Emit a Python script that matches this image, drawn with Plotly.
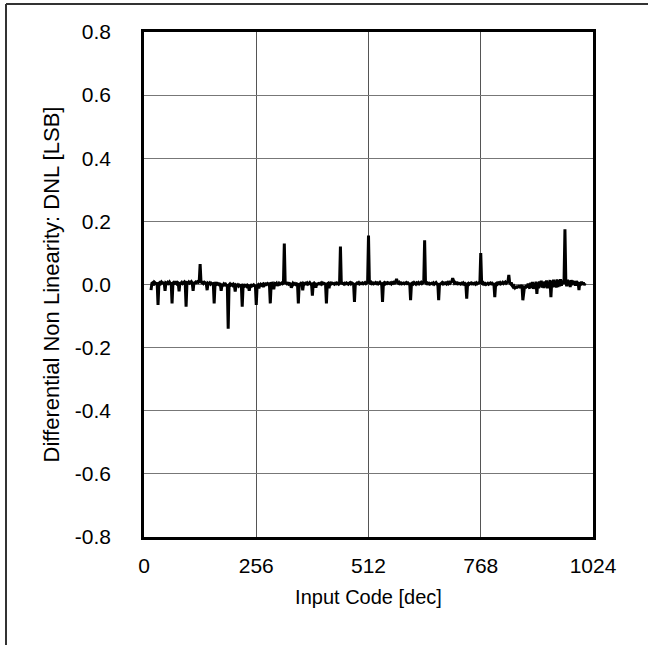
import plotly.graph_objects as go

# Input codes (every 2nd code, 16 .. 1006)
codes = list(range(16, 1008, 2))

# DNL values [LSB], 16 values per 32-code block
dnl_q1 = [
    -0.018, 0.004, 0.006, -0.003, 0.007, 0.005, 0.002, 0.006, -0.065, 0.004, 0.006, 0.003, 0.008, 0.005, 0.004, 0.007,
    -0.020, 0.005, 0.003, 0.007, 0.004, 0.008, 0.003, 0.006, -0.060, 0.005, 0.007, 0.004, 0.006, 0.003, 0.007, 0.005,
    -0.022, 0.006, 0.004, 0.007, 0.003, 0.005, 0.008, 0.004, -0.070, 0.006, 0.005, 0.008, 0.004, 0.006, 0.009, 0.005,
    -0.020, 0.007, 0.005, 0.008, 0.006, 0.009, 0.007, 0.010, 0.065, 0.008, 0.006, 0.010, 0.004, 0.007, 0.005, 0.003,
    -0.018, 0.004, 0.002, 0.005, 0.001, 0.004, 0.002, 0.003, -0.060, 0.002, 0.004, 0.001, 0.003, 0.000, 0.002, 0.001,
    -0.020, 0.001, -0.002, 0.002, -0.001, 0.001, -0.003, 0.000, -0.140, -0.001, 0.002, -0.002, 0.000, -0.003, 0.001, -0.002,
    -0.022, -0.002, -0.004, -0.001, -0.005, -0.002, -0.004, -0.003, -0.070, -0.004, -0.002, -0.005, -0.003, -0.006, -0.002, -0.004,
    -0.020, -0.004, -0.002, -0.005, -0.003, -0.001, -0.004, -0.002, -0.065, -0.003, -0.001, -0.012, -0.002, 0.001, -0.002, 0.000,
]
dnl_q2 = [
    -0.008, 0.001, -0.001, 0.002, 0.000, 0.003, 0.001, 0.002, -0.060, 0.002, 0.004, 0.001, -0.015, 0.003, 0.001, 0.004,
    -0.004, 0.002, 0.004, 0.001, 0.003, 0.005, 0.002, 0.004, 0.130, 0.003, 0.005, 0.002, 0.004, 0.001, 0.003, 0.002,
    -0.010, 0.002, 0.004, 0.001, 0.003, 0.000, 0.002, 0.004, -0.060, 0.003, 0.001, 0.004, 0.002, -0.018, 0.003, 0.001,
    0.004, 0.002, 0.005, 0.001, 0.003, 0.006, 0.002, 0.004, -0.035, 0.003, 0.005, 0.002, -0.010, 0.004, 0.001, 0.003,
    0.002, 0.004, 0.001, 0.005, 0.002, 0.004, 0.003, 0.001, -0.060, 0.002, 0.004, -0.012, 0.003, 0.005, 0.002, 0.004,
    0.003, 0.001, 0.004, 0.002, 0.005, 0.003, 0.001, 0.004, 0.120, 0.002, 0.005, 0.003, 0.001, 0.004, 0.002, 0.005,
    0.003, 0.001, 0.004, 0.006, 0.002, 0.005, 0.003, 0.001, -0.055, 0.004, 0.002, 0.005, 0.003, 0.006, 0.002, 0.004,
    0.003, 0.005, 0.002, 0.004, 0.006, 0.003, 0.005, 0.008, 0.155, 0.006, 0.004, 0.007, 0.003, 0.005, 0.002, 0.004,
]
dnl_q3 = [
    0.006, 0.003, 0.005, 0.002, 0.004, 0.007, 0.003, 0.005, -0.055, 0.004, 0.006, 0.002, 0.005, 0.003, 0.006, 0.004,
    0.003, 0.005, 0.002, 0.006, 0.004, 0.007, 0.005, 0.008, 0.018, 0.006, 0.004, 0.007, 0.003, 0.005, 0.002, 0.004,
    0.005, 0.002, 0.004, 0.006, 0.003, 0.005, 0.002, 0.004, -0.050, 0.003, 0.005, 0.002, 0.006, 0.004, 0.001, 0.005,
    0.003, 0.006, 0.002, 0.004, 0.007, 0.003, 0.005, 0.008, 0.140, 0.006, 0.003, 0.005, 0.002, 0.004, 0.001, 0.003,
    0.004, 0.002, 0.005, 0.001, 0.003, 0.006, 0.002, 0.004, -0.050, 0.003, 0.001, 0.004, 0.006, 0.002, 0.005, 0.003,
    0.005, 0.002, 0.006, 0.003, 0.007, 0.004, 0.008, 0.010, 0.020, 0.007, 0.004, 0.006, 0.003, 0.005, 0.002, 0.004,
    0.003, 0.001, 0.004, 0.002, 0.005, 0.001, 0.003, 0.000, -0.045, 0.002, 0.004, 0.001, 0.003, 0.005, 0.002, 0.004,
    0.002, 0.004, 0.001, 0.005, 0.002, 0.004, 0.006, 0.003, 0.100, 0.004, 0.002, 0.005, 0.001, 0.003, 0.000, 0.002,
]
dnl_q4 = [
    0.004, 0.001, 0.003, 0.005, 0.002, 0.004, 0.001, 0.003, -0.040, 0.002, 0.004, 0.001, 0.005, 0.003, 0.006, 0.002,
    0.004, 0.007, 0.003, 0.005, 0.008, 0.004, 0.006, 0.009, 0.030, 0.005, 0.002, 0.006, -0.004, -0.008, -0.005, -0.010,
    -0.006, -0.012, -0.004, -0.009, -0.003, -0.011, -0.006, -0.002, -0.050, -0.010, -0.004, -0.012, -0.002, -0.009, 0.003, -0.008,
    -0.012, 0.006, -0.010, 0.008, -0.014, 0.004, -0.009, 0.009, -0.030, 0.007, -0.012, 0.010, -0.006, 0.012, -0.010, 0.008,
    -0.011, 0.010, -0.008, 0.013, -0.012, 0.009, -0.006, 0.014, -0.040, 0.011, -0.009, 0.015, -0.007, 0.012, -0.010, 0.016,
    -0.008, 0.014, -0.006, 0.017, -0.004, 0.012, 0.002, 0.016, 0.175, 0.013, -0.006, 0.015, -0.003, 0.012, -0.008, 0.014,
    -0.002, 0.012, 0.003, 0.010, -0.004, 0.011, 0.002, 0.008, -0.018, 0.007, -0.003, 0.009, 0.001, 0.006, -0.002, 0.004,
]
dnl = dnl_q1 + dnl_q2 + dnl_q3 + dnl_q4

x_ticks = [0, 256, 512, 768, 1024]
y_ticks = [-0.8, -0.6, -0.4, -0.2, 0.0, 0.2, 0.4, 0.6, 0.8]
y_tick_text = ["-0.8", "-0.6", "-0.4", "-0.2", "0.0", "0.2", "0.4", "0.6", "0.8"]

FONT = "Liberation Sans, Arial, sans-serif"

# plot area in pixels
L, R, T, B = 144, 593, 32, 537
W, H = 648, 645


def px_x(p):
    return (p - L) / (R - L)


def px_y(p):
    return (B - p) / (B - T)


fig = go.Figure()
fig.add_trace(go.Scatter(x=codes, y=dnl, mode="lines",
                         line=dict(color="black", width=3), showlegend=False))

frame = dict(color="#333333", width=2)
fig.update_layout(
    width=W, height=H,
    margin=dict(l=L, r=W - R, t=T, b=H - B),
    paper_bgcolor="white", plot_bgcolor="white",
    font=dict(family=FONT, size=21, color="black"),
    xaxis=dict(range=[0, 1024], tickvals=x_ticks, ticktext=[str(v) for v in x_ticks],
               showgrid=True, gridcolor="#555555", gridwidth=1,
               showline=True, linecolor="black", linewidth=2.5, mirror=True,
               ticks="", ticklabelstandoff=8, zeroline=False,
               title=dict(text="Input Code [dec]", standoff=15,
                          font=dict(size=20))),
    yaxis=dict(range=[-0.8, 0.8], tickvals=y_ticks, ticktext=y_tick_text,
               showgrid=True, gridcolor="#777777", gridwidth=1,
               showline=True, linecolor="black", linewidth=2.5, mirror=True,
               ticks="", ticklabelstandoff=26, zeroline=False,
               title=dict(text="Differential Non Linearity: DNL [LSB]", standoff=10,
                          font=dict(size=22))),
    shapes=[
        dict(type="line", xref="paper", yref="paper",
             x0=px_x(6), x1=px_x(W + 10), y0=px_y(4), y1=px_y(4), line=frame),
        dict(type="line", xref="paper", yref="paper",
             x0=px_x(6), x1=px_x(6), y0=px_y(4), y1=px_y(H + 10), line=frame),
    ],
)

fig.write_html("out.html",
               config={"displayModeBar": False},
               post_script="document.body.style.margin='0';document.body.style.overflow='hidden';")
